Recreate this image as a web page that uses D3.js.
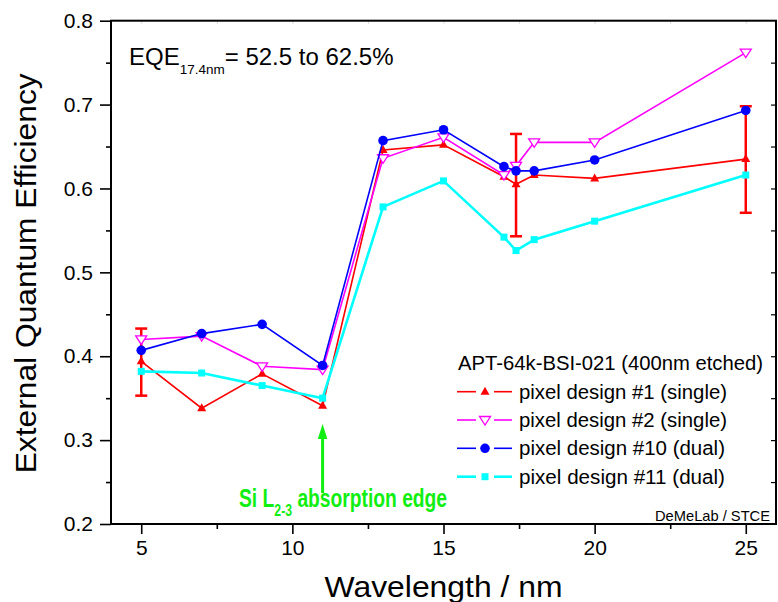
<!DOCTYPE html>
<html>
<head>
<meta charset="utf-8">
<script src="https://cdn.jsdelivr.net/npm/d3@7"></script>
<style>
  html, body { margin: 0; padding: 0; background: #fff; }
  svg { display: block; }
  text { font-family: "Liberation Sans", Arial, sans-serif; }
</style>
</head>
<body>
<div id="chart"></div>
<script>
// ---------- data ----------
const wavelengths = [5, 7, 9, 11, 13, 15, 17, 17.4, 18, 20, 25];
const design1  = [0.394, 0.338, 0.379, 0.341, 0.646, 0.652, 0.614, 0.605, 0.616, 0.612, 0.635];
const design2  = [0.420, 0.424, 0.388, 0.384, 0.636, 0.661, 0.616, 0.627, 0.655, 0.655, 0.762];
const design10 = [0.407, 0.427, 0.438, 0.389, 0.657, 0.670, 0.626, 0.621, 0.621, 0.634, 0.693];
const design11 = [0.382, 0.380, 0.365, 0.350, 0.578, 0.609, 0.542, 0.526, 0.539, 0.561, 0.616];
const errX    = [5, 17.4, 25];
const errLow  = [0.353, 0.543, 0.571];
const errHigh = [0.433, 0.665, 0.698];
const seriesNames = ["pixel design #1 (single)", "pixel design #2 (single)", "pixel design #10 (dual)", "pixel design #11 (dual)"];
const xTicks = [5, 10, 15, 20, 25];
const yTicks = [0.2, 0.3, 0.4, 0.5, 0.6, 0.7, 0.8];
const legendTitle = "APT-64k-BSI-021 (400nm etched)";

// ---------- layout ----------
const W = 778, H = 602;
const L = 111, R = 776, T = 20.7, B = 524;
const x = d3.scaleLinear().domain([4, 26]).range([L, R]);
const y = d3.scaleLinear().domain([0.2, 0.8]).range([B, T]);

const svg = d3.select("#chart").append("svg").attr("width", W).attr("height", H);

const seriesDefs = [
  {values: design1,  color: "#ff0000", marker: "triUp",   width: 1.6},
  {values: design2,  color: "#ff00ff", marker: "triDown", width: 1.6},
  {values: design10, color: "#0000ff", marker: "circle",  width: 1.6},
  {values: design11, color: "#00ffff", marker: "square",  width: 2.6}
];

function drawMarker(g, type, cx, cy, color) {
  if (type === "triUp") {
    g.append("path").attr("d", `M${cx},${cy-5} L${cx+4.5},${cy+3} L${cx-4.5},${cy+3} Z`).attr("fill", color);
  } else if (type === "triDown") {
    g.append("path").attr("d", `M${cx-5.5},${cy-3.5} L${cx+5.5},${cy-3.5} L${cx},${cy+5} Z`)
      .attr("fill", "#fff").attr("stroke", color).attr("stroke-width", 1.3);
  } else if (type === "circle") {
    g.append("circle").attr("cx", cx).attr("cy", cy).attr("r", 4.8).attr("fill", color);
  } else {
    g.append("rect").attr("x", cx-3.5).attr("y", cy-3.5).attr("width", 7).attr("height", 7).attr("fill", color);
  }
}

// ---------- axes ----------
const axisG = svg.append("g");
const bottomAx = axisG.append("g").attr("transform", `translate(0,${B})`)
  .call(d3.axisBottom(x).tickValues(xTicks).tickSize(10).tickPadding(6).tickFormat(d3.format("d")));
bottomAx.selectAll(".tick text").attr("font-size", 21).attr("font-family", "Liberation Sans, Arial, sans-serif").attr("fill", "#000");
axisG.append("g").attr("transform", `translate(0,${B})`)
  .call(d3.axisBottom(x).tickValues([7.5, 12.5, 17.5, 22.5]).tickSize(5).tickFormat(""));
const leftAx = axisG.append("g").attr("transform", `translate(${L},0)`)
  .call(d3.axisLeft(y).tickValues(yTicks).tickSize(11).tickPadding(7).tickFormat(d3.format(".1f")));
leftAx.selectAll(".tick text").attr("font-size", 21).attr("font-family", "Liberation Sans, Arial, sans-serif").attr("fill", "#000");
axisG.append("g").attr("transform", `translate(${L},0)`)
  .call(d3.axisLeft(y).tickValues([0.25, 0.35, 0.45, 0.55, 0.65, 0.75]).tickSize(5).tickFormat(""));
const rightAx = axisG.append("g").attr("transform", `translate(${R},0)`)
  .call(d3.axisRight(y).tickValues([0.25, 0.3, 0.35, 0.4, 0.45, 0.5, 0.55, 0.6, 0.65, 0.7, 0.75]).tickSize(-5).tickFormat(""));
const topAx = axisG.append("g").attr("transform", `translate(0,${T})`)
  .call(d3.axisTop(x).tickValues([5, 7.5, 10, 12.5, 15, 17.5, 20, 22.5, 25]).tickSize(-3).tickFormat(""));

axisG.selectAll(".domain").remove();
axisG.selectAll(".tick line").attr("stroke", "#000").attr("stroke-width", 1.6);
rightAx.selectAll(".tick line").attr("stroke-width", 1.2);
topAx.selectAll(".tick line").attr("stroke-width", 0.6).attr("stroke", "#bbb");

// frame
svg.append("rect").attr("x", L).attr("y", T).attr("width", R - L).attr("height", B - T)
  .attr("fill", "none").attr("stroke", "#000").attr("stroke-width", 2);

// ---------- axis titles ----------
svg.append("text").attr("transform", `translate(36,${(T+B)/2 + 1}) rotate(-90)`)
  .attr("text-anchor", "middle").attr("font-size", 30).attr("fill", "#000")
  .attr("textLength", 400).attr("lengthAdjust", "spacingAndGlyphs")
  .text("External Quantum Efficiency");
svg.append("text").attr("x", (L + R) / 2).attr("y", 597)
  .attr("text-anchor", "middle").attr("font-size", 30).attr("fill", "#000")
  .attr("textLength", 238).attr("lengthAdjust", "spacingAndGlyphs")
  .text("Wavelength / nm");

// ---------- error bars ----------
const errG = svg.append("g");
errX.forEach((wx, i) => {
  const cx = x(wx);
  errG.append("line").attr("x1", cx).attr("x2", cx).attr("y1", y(errLow[i])).attr("y2", y(errHigh[i]))
    .attr("stroke", "#ff0000").attr("stroke-width", 2.5);
  [errLow[i], errHigh[i]].forEach(v => {
    errG.append("line").attr("x1", cx - 6).attr("x2", cx + 6).attr("y1", y(v)).attr("y2", y(v))
      .attr("stroke", "#ff0000").attr("stroke-width", 2.5);
  });
});

// ---------- series ----------
const lineGen = d3.line().x((d) => x(d[0])).y((d) => y(d[1]));
seriesDefs.forEach(s => {
  const pts = wavelengths.map((w, i) => [w, s.values[i]]);
  const g = svg.append("g");
  g.append("path").attr("d", lineGen(pts)).attr("fill", "none").attr("stroke", s.color).attr("stroke-width", s.width);
  pts.forEach(p => drawMarker(g, s.marker, x(p[0]), y(p[1]), s.color));
});

// ---------- annotation: EQE ----------
const eqe = svg.append("text").attr("x", 129).attr("y", 65).attr("font-size", 24).attr("fill", "#000");
eqe.append("tspan").text("EQE");
eqe.append("tspan").attr("font-size", 13.5).attr("dy", 9).text("17.4nm");
eqe.append("tspan").attr("dy", -9).text("= 52.5 to 62.5%");

// ---------- annotation: Si L2-3 edge ----------
const green = "#11ee11";
svg.append("line").attr("x1", x(11)).attr("x2", x(11)).attr("y1", 493).attr("y2", 436)
  .attr("stroke", green).attr("stroke-width", 3);
svg.append("path").attr("d", `M${x(11)},424 L${x(11)+4.8},439 L${x(11)-4.8},439 Z`).attr("fill", green);
const siG = svg.append("g").attr("transform", "translate(239,507) scale(0.77,1)");
const si = siG.append("text").attr("x", 0).attr("y", 0).attr("font-size", 25).attr("font-weight", "bold").attr("fill", green);
si.append("tspan").text("Si L");
si.append("tspan").attr("font-size", 16).attr("dy", 9).text("2-3");
si.append("tspan").attr("dy", -9).text(" absorption edge");

// ---------- credit ----------
svg.append("text").attr("x", 655).attr("y", 520.5).attr("font-size", 15).attr("fill", "#000")
  .attr("textLength", 115).attr("lengthAdjust", "spacingAndGlyphs").text("DeMeLab / STCE");

// ---------- legend ----------
const lg = svg.append("g");
lg.append("text").attr("x", 458).attr("y", 370).attr("font-size", 20).attr("fill", "#000")
  .attr("textLength", 305).attr("lengthAdjust", "spacingAndGlyphs").text(legendTitle);
const rowY = [391.7, 420, 448.3, 476.7];
const textLens = [208, 208, 206, 206];
seriesDefs.forEach((s, i) => {
  const cy = rowY[i];
  lg.append("line").attr("x1", 457).attr("x2", 476).attr("y1", cy).attr("y2", cy).attr("stroke", s.color).attr("stroke-width", s.width);
  lg.append("line").attr("x1", 494).attr("x2", 512).attr("y1", cy).attr("y2", cy).attr("stroke", s.color).attr("stroke-width", s.width);
  drawMarker(lg, s.marker, 485, cy, s.color);
  lg.append("text").attr("x", 519).attr("y", cy + 6.8).attr("font-size", 20).attr("fill", "#000")
    .attr("textLength", textLens[i]).attr("lengthAdjust", "spacingAndGlyphs").text(seriesNames[i]);
});
</script>
</body>
</html>
